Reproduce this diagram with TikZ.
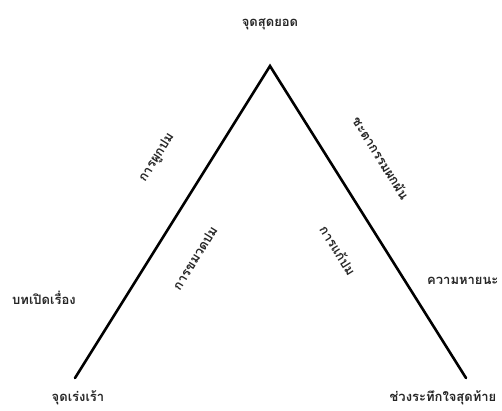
\documentclass[tikz,border=0pt]{standalone}
\usepackage{fontspec}
\newfontfamily\thaifont[Script=Thai]{Loma}
\begin{document}
\begin{tikzpicture}[x=1pt,y=-1pt,
  lbl/.style={font=\thaifont\bfseries\fontsize{13}{15}\selectfont, inner sep=0pt, text=black!85},
  plotline/.style={line width=2.6pt, line cap=round, line join=miter}]
\useasboundingbox (0,0) rectangle (502,410);
\fill[white] (0,0) rectangle (502,410);
\coordinate (left) at (75,378);
\coordinate (apex) at (270,66);
\coordinate (right) at (466,378);
\draw[plotline] (left) -- (apex) -- (right);
\node[lbl] (climax) at (270,24) {จุดสุดยอด};
\node[lbl, rotate=58] (rising1) at (157,158) {การผูกปม};
\node[lbl, rotate=-58] (fall1) at (381,158) {ชะตากรรมผกผัน};
\node[lbl, rotate=58] (rising2) at (195,258) {การขมวดปม};
\node[lbl, rotate=-58] (fall2) at (338,250) {การแก้ปม};
\node[lbl] (expo) at (44,298) {บทเปิดเรื่อง};
\node[lbl, anchor=west] (catas) at (427,281) {ความหายนะ};
\node[lbl] (incite) at (78,398) {จุดเร่งเร้า};
\node[lbl] (final) at (443,398) {ช่วงระทึกใจสุดท้าย};
\end{tikzpicture}
\end{document}
